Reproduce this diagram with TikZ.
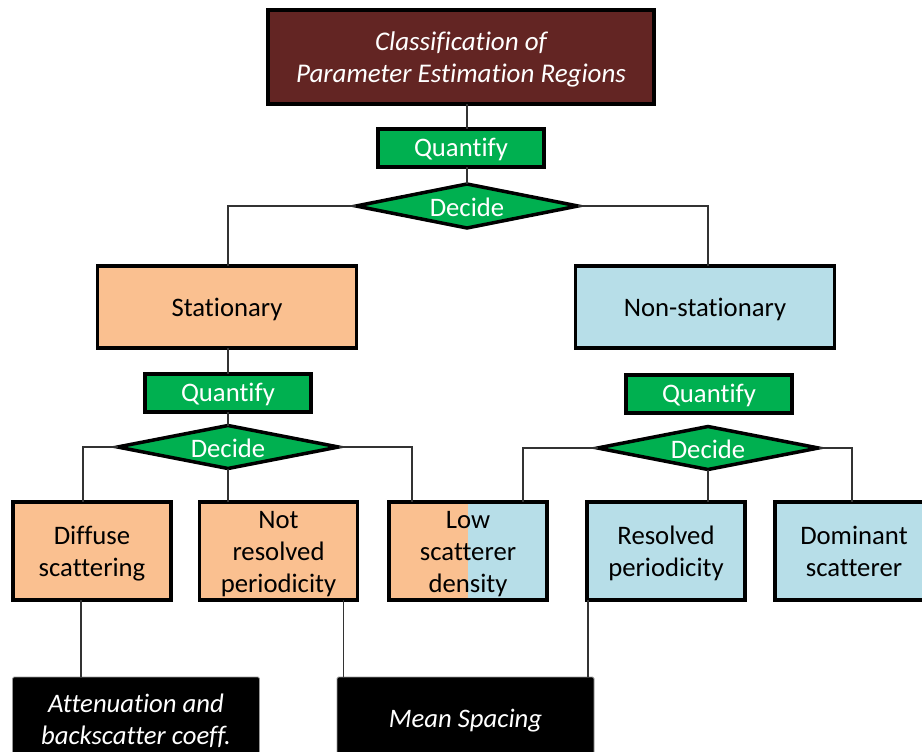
\documentclass[tikz,border=0pt]{standalone}
\usepackage{fontspec}
\setmainfont{Carlito}[Ligatures=CommonOff]
\usetikzlibrary{shapes.geometric,calc}
\definecolor{titlered}{HTML}{632523}
\definecolor{qgreen}{HTML}{00B050}
\definecolor{peach}{HTML}{FAC090}
\definecolor{lblue}{HTML}{B7DEE8}
\newcommand\boxtxt[2][3.5pt]{\raisebox{-#1}[\height][\depth]{\begin{tabular}{@{}c@{}}#2\end{tabular}}}
\newcommand\lowtxt[2][1pt]{\raisebox{-#1}[\height][\depth]{#2}}
\tikzset{
  base/.style={draw=black, line width=3.5pt, inner sep=0pt, outer sep=0pt, align=center,
    font=\fontsize{26.7}{32}\selectfont},
  titlebox/.style={base, fill=titlered, text=white, font=\fontsize{27}{32}\selectfont\itshape,
    minimum width=386pt, minimum height=94pt},
  qbox/.style={base, fill=qgreen, text=white, minimum width=166pt, minimum height=38pt},
  dbox/.style={base, diamond, aspect=5, fill=qgreen, text=white, minimum width=222pt, minimum height=44pt},
  bigbox/.style={base, minimum width=259pt, minimum height=82pt},
  smallbox/.style={base, minimum width=158pt, minimum height=98pt},
  resbox/.style={draw=black!40, line width=0.8pt, fill=black, text=white, inner sep=0pt, outer sep=0pt,
    align=center, rounded corners=1.5pt, font=\fontsize{26.7}{32}\selectfont\itshape},
  plaintext/.style={inner sep=0pt, align=center, font=\fontsize{26.7}{32}\selectfont},
  conn/.style={draw=black!80, line width=1.1pt},
}
\begin{document}
\begin{tikzpicture}[x=1pt,y=-1pt]
\useasboundingbox (0,0) rectangle (922,752);
\clip (0,0) rectangle (922,752);
% top
\node[titlebox] (title) at (461,57) {\boxtxt{Classification of\\Parameter Estimation Regions}};
\node[qbox] (q0) at (461,148) {\boxtxt[2.5pt]{Quantify}};
\node[dbox] (d0) at (467,206) {\lowtxt{Decide}};
% second level
\node[bigbox, fill=peach] (stat) at (227,307) {\boxtxt[3pt]{Stationary}};
\node[bigbox, fill=lblue] (nonstat) at (705,307) {\boxtxt[3pt]{Non-stationary}};
\node[qbox] (q1) at (228,393) {\boxtxt[2.5pt]{Quantify}};
\node[dbox, minimum width=221pt, minimum height=43pt] (d1) at (228,447) {\lowtxt{Decide}};
\node[qbox] (q2) at (709,394) {\boxtxt[2.5pt]{Quantify}};
\node[dbox, minimum width=221pt, minimum height=43pt] (d2) at (708,448) {\lowtxt{Decide}};
% third level
\node[smallbox, fill=peach] (diff) at (92,551) {\boxtxt{Diffuse\\scattering}};
\node[smallbox, fill=peach] (nres) at (278.5,551) {\boxtxt{Not\\resolved\\periodicity}};
\node[smallbox, fill=lblue, draw=none] (low) at (468,551) {};
\coordinate (lowmid) at (468,0);
\fill[peach] (low.north west) rectangle (low.south west -| lowmid);
\draw[line width=3.5pt] (low.north west) rectangle (low.south east);
\node[plaintext] (lowtext) at (low.center) {\boxtxt{Low\\scatterer\\density}};
\node[smallbox, fill=lblue] (res) at (666,551) {\boxtxt{Resolved\\periodicity}};
\node[smallbox, fill=lblue] (dom) at (854,551) {\boxtxt{Dominant\\scatterer}};
% results
\node[resbox, minimum width=247pt, minimum height=90pt] (att) at (136,722) {};
\node[plaintext, text=white, font=\fontsize{26.7}{32}\selectfont\itshape] (atttext) at (136,722) {\boxtxt[0pt]{Attenuation and\\backscatter coeff.}};
\node[resbox, minimum width=257pt, minimum height=90pt] (ms) at (465.5,722) {};
\node[plaintext, text=white, font=\fontsize{26.7}{32}\selectfont\itshape] (mstext) at (465.5,721) {Mean Spacing};
% connectors
\draw[conn] (title.south -| d0.north) -- (q0.north -| d0.north);
\draw[conn] (q0.south -| d0.north) -- (d0.north);
\draw[conn] (d0.west) -| ([xshift=1pt]stat.north);
\draw[conn] (d0.east) -| ([xshift=3pt]nonstat.north);
\draw[conn] (stat.south -| q1.north) -- (q1.north);
\draw[conn] (q1.south) -- (d1.north);
\draw[conn] (d1.west) -| ([xshift=-9pt]diff.north);
\draw[conn] (d1.south) -- (d1.south |- nres.north);
\draw[conn] (d1.east) -| ([xshift=23pt]low.north west);
\draw[conn] (d2.west) -| ([xshift=-24pt]low.north east);
\draw[conn] (d2.south) -- (d2.south |- res.north);
\draw[conn] (d2.east) -| ([xshift=-2pt]dom.north);
\draw[conn] ([xshift=-11pt]diff.south) -- ([xshift=-11pt]diff.south |- att.north);
\draw[conn] ([xshift=-14pt]nres.south east) -- ([xshift=-14pt]nres.south east |- ms.north);
\draw[conn] ([xshift=1pt]res.south west) -- ([xshift=1pt]res.south west |- ms.north);
\end{tikzpicture}
\end{document}
